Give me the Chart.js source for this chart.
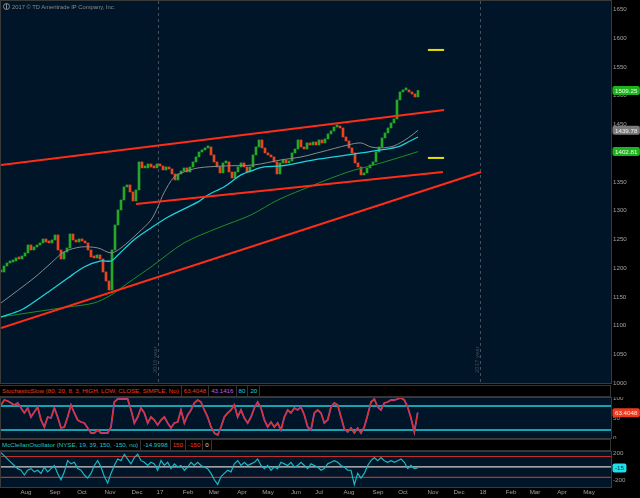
<!DOCTYPE html>
<html>
<head>
<meta charset="utf-8">
<script src="https://cdn.jsdelivr.net/npm/chart.js@4.4.0/dist/chart.umd.min.js"></script>
<style>
  body { margin: 0; width: 640px; height: 498px; overflow: hidden; position: relative; background: #000;
         font-family: "Liberation Sans", Arial, sans-serif; }
  canvas { position: absolute; left: 0; }
  #price { top: 0; }
  #stoch { top: 397px; }
  #mcc { top: 451px; }
  .hdr { position: absolute; left: 0; width: 611px; height: 12px; box-sizing: border-box; background: #000;
         border-top: 1px solid #353535; border-bottom: 1px solid #353535; border-right: 1px solid #353535;
         font-size: 6.2px; line-height: 10px; white-space: nowrap; }
  .hdr span { display: inline-block; padding: 0 2px; border-right: 1px solid #353535; }
  #stochHdr { top: 385px; }
  #mccHdr { top: 439px; }
  #copy { position: absolute; left: 3px; top: 3px; color: #8a8a8a; font-size: 5.8px; line-height: 8px; }
  #copy i { display: inline-block; width: 5px; height: 5px; border: 1px solid #8a8a8a; border-radius: 50%;
            vertical-align: -1px; margin-right: 2px; position: relative; }
  #copy i:after { content: ""; position: absolute; left: 2px; top: 0; width: 1px; height: 5px; background: #8a8a8a; }
</style>
</head>
<body>
<canvas id="price" width="640" height="385"></canvas>
<div id="copy"><i></i>2017 © TD Ameritrade IP Company, Inc.</div>
<div class="hdr" id="stochHdr"></div>
<canvas id="stoch" width="640" height="42"></canvas>
<div class="hdr" id="mccHdr"></div>
<canvas id="mcc" width="640" height="47"></canvas>
<script>
// daily closes, one bar per slot (~2.3 trading days), Jul 2016 - Oct 2017
const closes = [1193.3,1203.7,1208.9,1210.7,1212.4,1217.7,1215.9,1221.1,1226.4,1240.3,
  1231.6,1236.8,1240.3,1243.8,1250.7,1245.5,1243.8,1249.0,1257.7,1231.6,
  1215.9,1228.1,1235.1,1259.4,1249.0,1245.5,1250.7,1247.3,1243.8,1231.6,
  1219.4,1217.7,1222.9,1215.9,1193.3,1177.6,1161.9,1231.6,1275.1,1301.2,
  1318.6,1341.3,1344.8,1332.6,1316.9,1336.1,1384.8,1374.4,1374.4,1381.3,
  1376.1,1374.4,1381.3,1377.8,1370.9,1376.1,1372.6,1363.9,1353.5,1363.9,
  1369.1,1374.4,1367.4,1376.1,1384.8,1393.5,1402.2,1405.7,1409.2,1410.9,
  1397.0,1384.8,1376.1,1365.7,1383.1,1384.8,1367.4,1356.9,1367.4,1376.1,
  1383.1,1376.1,1367.4,1376.1,1397.0,1410.9,1423.1,1409.2,1400.5,1397.0,
  1393.5,1384.8,1363.9,1383.1,1388.3,1383.1,1386.5,1400.5,1407.4,1423.1,
  1410.9,1407.4,1417.9,1414.4,1419.6,1414.4,1423.1,1417.9,1424.9,1433.6,
  1438.8,1445.7,1447.5,1444.0,1428.3,1421.4,1409.2,1400.5,1383.1,1376.1,
  1362.2,1365.7,1374.4,1379.6,1384.8,1402.2,1410.9,1426.6,1435.3,1444.0,
  1452.7,1459.7,1492.8,1506.7,1510.2,1510.2,1506.7,1503.2,1498.0,1509.25];

// moving averages (slot, value)
const grayMaX = [0,11,16.7,21,26.7,32.3,36.7,40,45.7,50,52.3,54.3,57.7,61,65.7,74.3,84.3,93.3,100,106.7,115.7,120,123.3,126.7,131,135.7,139];
const grayMa = [1139.3,1182.8,1208.9,1228.1,1236.8,1235.1,1226.4,1235.1,1261.2,1283.8,1306.5,1330.8,1358.7,1367.4,1374.4,1377.8,1379.6,1388.3,1393.5,1402.2,1414.4,1417.9,1410.9,1409.2,1412.7,1426.6,1439.78];
const cyanMaX = [0,6.7,11,16.7,22.3,27.7,33.3,36.7,39,44.3,50,55.7,65.7,69,74.3,76.7,80,83.3,87.7,93.3,104.3,115.7,120,126.7,132.3,135.7,139];
const cyanMa = [1114.9,1127.1,1141.0,1161.9,1182.8,1202.0,1212.4,1212.4,1222.9,1249.0,1269.9,1289.0,1315.2,1327.3,1341.3,1350.0,1362.2,1369.1,1376.1,1377.8,1388.3,1397.0,1400.5,1405.7,1410.9,1419.6,1428.3];
const greenMaX = [0,11,22.3,31,36.7,42.3,50,61,72.3,83.3,92.3,104.3,115.7,124.3,132.3,139];
const greenMa = [1114.9,1123.6,1132.3,1139.3,1153.2,1174.1,1202.0,1243.8,1269.9,1292.5,1318.6,1344.8,1367.4,1379.6,1391.8,1402.81];

// drawn trend lines: [slot, price] end points
const channelTop = [[0, 1379.6], [147.7, 1475.3]];
const channelBottom = [[45, 1311.7], [147.3, 1367.4]];
const longSupport = [[0, 1095.8], [160, 1367.4]];
const targetHigh = [[142.3, 1579.8], [147.7, 1579.8]];
const targetLow = [[142.3, 1391.8], [147.7, 1391.8]];

// indicators, one reading per 10/9 slot
const stochK = [82.5,95,92.5,87.5,82.5,87.5,75,62.5,75,52.5,
  65,77.5,45,27.5,52.5,50,75,52.5,25,27.5,
  52.5,82.5,62.5,45,40,37.5,25,12.5,12.5,20,
  12.5,12.5,12.5,27.5,90,97.5,97.5,97.5,97.5,70,
  37.5,52.5,75,62.5,37.5,52.5,45,32.5,45,52.5,
  37.5,25,37.5,40,70,37.5,57.5,70,87.5,95,
  90,70,52.5,27.5,12.5,7.5,27.5,52.5,62.5,70,
  82.5,52.5,70,50,37.5,52.5,75,90,75,45,
  27.5,40,27.5,37.5,20,52.5,70,62.5,75,70,
  77.5,57.5,27.5,20,62.5,70,62.5,37.5,45,77.5,
  87.5,82.5,52.5,22.5,15,25,12.5,25,12.5,27.5,
  57.5,90,97.5,77.5,70,87.5,90,95,95,97.5,
  100,95,77.5,50,15,63.4048];
const stochDLast = 43.1416;
const mccOsc = [204,159,113,66,21,-25,-48,-117,-48,-25,
  -71,-48,-94,-2,-71,-25,21,-94,-186,-71,
  90,44,66,-25,-48,-117,-163,-94,21,90,
  -2,-140,-232,-94,21,113,90,182,113,44,
  135,182,90,66,21,66,44,-48,90,21,
  66,-25,44,-2,21,-48,-2,66,21,66,
  21,-2,-25,-94,-186,-255,-140,-94,-48,-71,
  44,90,21,66,21,44,66,113,21,-25,
  21,-48,-2,-25,66,44,21,66,-2,21,
  66,21,-25,44,21,-2,-48,-25,44,66,
  90,66,21,-2,-48,-48,-255,-94,-163,-94,
  21,90,135,90,135,90,66,90,66,90,
  113,66,-25,21,-25,-14.9998];

// axes
const monthTicks = [8.33,18,27,36.33,45.33,53,62.33,71,80.33,89,98.33,106,116,125.67,134,144,152.67,160.67,170,178,187,196];
const monthLabels = ['Aug','Sep','Oct','Nov','Dec','17','Feb','Mar','Apr','May','Jun','Jul','Aug','Sep','Oct','Nov','Dec','18','Feb','Mar','Apr','May'];
const priceTicks = [1000,1050,1100,1150,1200,1250,1300,1350,1400,1450,1500,1550,1600,1650];
const stochTicks = [0,50,100];
const mccTicks = [-200,200];
const yearLines = [52.33, 159.67];
const yearLabels = ['2016 year', '2017 year'];

const SLOT_MAX = 610 / 3;
const IND_STEP = 10 / 9;
const FONT = '"Liberation Sans", Arial, sans-serif';
const RED = '#ff2d16', UP = '#25a825', DOWN = '#ec4320', CYAN = '#1ed2dc';

const opens = closes.map((c, i) => i ? closes[i - 1] : c);
const pairs = (xs, ys) => xs.map((x, i) => ({x, y: ys[i]}));
const ends = p => p.map(([x, y]) => ({x, y}));
const flat = v => [{x: 0, y: v}, {x: SLOT_MAX, y: v}];
const series = vals => vals.map((v, i) => ({x: i * IND_STEP, y: v}));

function line(data, color, width, extra) {
  return Object.assign({type: 'line', data, borderColor: color, borderWidth: width,
    pointRadius: 0, tension: 0, fill: false}, extra || {});
}

const panelPlugin = {
  id: 'panel',
  beforeDraw(chart) {
    const {ctx, chartArea: a} = chart;
    ctx.save();
    ctx.fillStyle = '#011528';
    ctx.fillRect(a.left, a.top, a.right - a.left, a.bottom - a.top);
    ctx.restore();
  },
  beforeDatasetsDraw(chart, args, opts) {
    if (!opts.years) return;
    const {ctx, chartArea: a, scales} = chart;
    ctx.save();
    ctx.strokeStyle = '#4a4f57';
    ctx.lineWidth = 1;
    ctx.setLineDash([3, 3]);
    yearLines.forEach((v, i) => {
      const x = Math.round(scales.x.getPixelForValue(v)) + 0.5;
      ctx.beginPath(); ctx.moveTo(x, a.top); ctx.lineTo(x, a.bottom); ctx.stroke();
      ctx.save();
      ctx.translate(x - 3, a.bottom - 10);
      ctx.rotate(-Math.PI / 2);
      ctx.fillStyle = '#454a52';
      ctx.font = '6px ' + FONT;
      ctx.textAlign = 'left';
      ctx.textBaseline = 'middle';
      ctx.fillText(yearLabels[i], 0, 0);
      ctx.restore();
    });
    ctx.restore();
  },
  afterDraw(chart, args, opts) {
    const {ctx, chartArea: a, scales} = chart;
    ctx.save();
    ctx.strokeStyle = '#3a3a3a';
    ctx.lineWidth = 1;
    ctx.strokeRect(a.left - 0.5, a.top - 0.5, a.right - a.left + 1, a.bottom - a.top + 1);
    ctx.font = '6.2px ' + FONT;
    ctx.textBaseline = 'middle';
    ctx.textAlign = 'left';
    (opts.badges || []).forEach(b => {
      const y = scales.y.getPixelForValue(b.value);
      const w = ctx.measureText(b.text).width + 5;
      ctx.fillStyle = b.bg;
      ctx.beginPath();
      ctx.roundRect(a.right + 1.5, y - 4.5, w, 9, 2);
      ctx.fill();
      ctx.fillStyle = b.fg;
      ctx.fillText(b.text, a.right + 4, y + 0.5);
    });
    ctx.restore();
  }
};

function xAxis(show) {
  return {
    type: 'linear', min: 0, max: SLOT_MAX, display: show, offset: false,
    afterBuildTicks: s => { s.ticks = monthTicks.map(v => ({value: v})); },
    afterFit: s => { if (show) s.height = 11; s.paddingLeft = 0; s.paddingRight = 0; },
    grid: {display: false, drawTicks: false, offset: false},
    border: {display: false},
    ticks: {autoSkip: false, maxRotation: 0, padding: 2, color: '#a0a0a0',
      font: {size: 6.2, family: FONT}, callback: (v, i) => monthLabels[i]}
  };
}

function yAxis(min, max, ticks) {
  return {
    position: 'right', min, max,
    afterBuildTicks: s => { s.ticks = ticks.map(v => ({value: v})); },
    afterFit: s => { s.width = 29; s.paddingTop = 0; s.paddingBottom = 0; },
    grid: {display: false, drawTicks: false},
    border: {color: '#3a3a3a'},
    ticks: {padding: 2, color: '#a0a0a0', font: {size: 6.2, family: FONT}, callback: v => String(v)}
  };
}

function baseOptions(pad, scales, panel) {
  return {
    responsive: false, animation: false, events: [],
    layout: {padding: pad},
    plugins: {legend: {display: false}, tooltip: {enabled: false}, panel},
    scales
  };
}

new Chart(document.getElementById('price'), {
  type: 'bar',
  data: {
    datasets: [
      line(ends(channelTop), RED, 2, {order: 0}),
      line(ends(channelBottom), RED, 2, {order: 0}),
      line(ends(longSupport), RED, 2, {order: 0}),
      line(ends(targetHigh), '#e8e000', 2, {order: 0}),
      line(ends(targetLow), '#e8e000', 2, {order: 0}),
      line(pairs(cyanMaX, cyanMa), CYAN, 1.3, {order: 1, tension: 0.3}),
      line(pairs(grayMaX, grayMa), '#8a8a8a', 1, {order: 1, tension: 0.3}),
      line(pairs(greenMaX, greenMa), '#1f8f26', 1, {order: 1, tension: 0.3}),
      {
        label: 'RUT', order: 2,
        data: closes.map((c, i) => ({x: i, y: [opens[i], c]})),
        backgroundColor: closes.map((c, i) => c >= opens[i] ? UP : DOWN),
        barThickness: 2, minBarLength: 2, grouped: false
      }
    ]
  },
  options: baseOptions({top: 1, left: 1, right: 0, bottom: 2},
    {x: xAxis(false), y: yAxis(1000, 1665, priceTicks)},
    {years: true, badges: [
      {value: closes[closes.length - 1], text: closes[closes.length - 1].toFixed(2), bg: '#1fb21f', fg: '#e8ffe8'},
      {value: grayMa[grayMa.length - 1], text: grayMa[grayMa.length - 1].toFixed(2), bg: '#7a7a7a', fg: '#f0f0f0'},
      {value: greenMa[greenMa.length - 1], text: greenMa[greenMa.length - 1].toFixed(2), bg: '#1fb21f', fg: '#e8ffe8'}
    ]}),
  plugins: [panelPlugin]
});

const stochLast = stochK[stochK.length - 1];
new Chart(document.getElementById('stoch'), {
  type: 'line',
  data: {
    datasets: [
      line(series(stochK), '#e0321c', 1.2),
      line(series(stochK), '#9a46c8', 1.8),
      line(flat(80), CYAN, 1.5),
      line(flat(20), CYAN, 1.5)
    ]
  },
  options: baseOptions({top: 1, left: 1, right: 0, bottom: 1},
    {x: xAxis(false), y: yAxis(0, 100, stochTicks)},
    {badges: [{value: stochLast, text: stochLast.toFixed(4), bg: '#ec3b1e', fg: '#ffe6e0'}]}),
  plugins: [panelPlugin]
});

const mccLast = mccOsc[mccOsc.length - 1];
new Chart(document.getElementById('mcc'), {
  type: 'line',
  data: {
    datasets: [
      line(series(mccOsc), '#19b8c4', 1.2),
      line(flat(150), '#c0302a', 1.2),
      line(flat(-150), '#c0302a', 1.2),
      line(flat(0), '#d0d0d0', 1.2)
    ]
  },
  options: baseOptions({top: 1, left: 1, right: 0, bottom: 0},
    {x: xAxis(true), y: yAxis(-290, 215, mccTicks)},
    {badges: [{value: mccLast, text: Math.round(mccLast).toString(), bg: '#1ee0ea', fg: '#003040'}]}),
  plugins: [panelPlugin]
});

// indicator headers
function header(id, parts) {
  document.getElementById(id).innerHTML = parts
    .map(([t, c]) => '<span style="color:' + c + '">' + t + '</span>').join('');
}
header('stochHdr', [
  ['StochasticSlow (80, 20, 8, 3, HIGH, LOW, CLOSE, SIMPLE, No)', '#ec3b1e'],
  [stochLast.toFixed(4), '#ec3b1e'],
  [stochDLast.toFixed(4), '#c45ae8'],
  ['80', CYAN],
  ['20', CYAN]
]);
header('mccHdr', [
  ['McClellanOscillator (NYSE, 19, 39, 150, -150, no)', '#1ec8c8'],
  [mccLast.toFixed(4), '#1ec8c8'],
  ['150', '#ec3b1e'],
  ['-150', '#ec3b1e'],
  ['0', '#d0d0d0']
]);
</script>
</body>
</html>
